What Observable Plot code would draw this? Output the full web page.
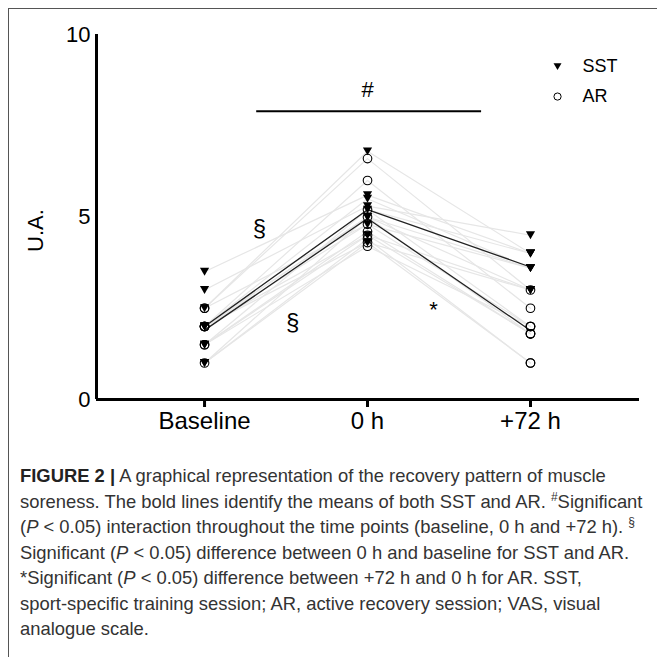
<!DOCTYPE html>
<html>
<head>
<meta charset="utf-8">
<script src="https://cdn.jsdelivr.net/npm/d3@7"></script>
<script src="https://cdn.jsdelivr.net/npm/@observablehq/plot@0.6"></script>
<style>
  html, body { margin: 0; padding: 0; background: white; }
  #page { position: relative; width: 657px; height: 657px; overflow: hidden; background: white; }
  #frame { position: absolute; left: 8px; top: 8px; width: 700px; height: 700px; z-index: 5;
           border-left: 1.5px solid #555; border-top: 1.5px solid #555; background: transparent; }
  #chart { position: absolute; left: 0; top: 0; }
  #caption { position: absolute; left: 20px; top: 463px; width: 640px;
             font-family: "Liberation Sans", Arial, sans-serif; font-size: 18.4px;
             line-height: 25.5px; color: #333; white-space: nowrap; }
  #caption b { color: #222; }
  #caption sup { font-size: 12px; line-height: 0; vertical-align: 7px; }
</style>
</head>
<body>
<div id="page">
  <div id="chart"></div>
  <div id="caption">
    <div><b>FIGURE 2 |</b> A graphical representation of the recovery pattern of muscle</div>
    <div>soreness. The bold lines identify the means of both SST and AR. <sup>#</sup>Significant</div>
    <div>(<i>P</i> &lt; 0.05) interaction throughout the time points (baseline, 0 h and +72 h). <sup>§</sup></div>
    <div>Significant (<i>P</i> &lt; 0.05) difference between 0 h and baseline for SST and AR.</div>
    <div>*Significant (<i>P</i> &lt; 0.05) difference between +72 h and 0 h for AR. SST,</div>
    <div>sport-specific training session; AR, active recovery session; VAS, visual</div>
    <div>analogue scale.</div>
  </div>
  <div id="frame"></div>
</div>
<script>
// Time points (categories)
const times = ["Baseline", "0 h", "+72 h"];
const yTicks = [0, 5, 10];

// SST individual values (one entry per subject)
const sstBaseline = [3.5, 3.0, 2.5, 2.0, 2.0, 2.0, 1.5, 1.5, 1.0, 1.0];
const sst0h       = [5.6, 5.3, 6.8, 5.5, 5.0, 4.8, 5.2, 4.5, 4.3, 5.0];
const sst72h      = [4.0, 4.5, 4.0, 3.6, 3.0, 3.6, 4.0, 3.0, 3.0, 3.6];

// AR individual values (one entry per subject)
const arBaseline = [2.5, 2.5, 2.0, 2.0, 2.0, 2.0, 1.5, 1.5, 1.0, 2.0];
const ar0h       = [6.6, 4.8, 6.0, 4.5, 5.2, 4.3, 4.6, 4.2, 4.4, 5.0];
const ar72h      = [3.0, 2.0, 2.5, 1.8, 2.0, 1.0, 1.8, 2.0, 1.0, 1.8];

// Legend and annotation labels
const groups = ["SST", "AR"];
const annotations = ["#", "§", "§", "*"];
const yLabel = "U.A.";

// Build long-format tables
function toRows(group, cols) {
  const rows = [];
  cols[0].forEach((_, i) => {
    cols.forEach((col, t) => rows.push({group, subject: i, t, value: col[i]}));
  });
  return rows;
}
const sstRows = toRows("SST", [sstBaseline, sst0h, sst72h]);
const arRows  = toRows("AR",  [arBaseline, ar0h, ar72h]);
const allRows = sstRows.concat(arRows);
const means = [];
[["SST", [sstBaseline, sst0h, sst72h]], ["AR", [arBaseline, ar0h, ar72h]]].forEach(([g, cols]) => {
  cols.forEach((col, t) => means.push({group: g, t, value: d3.mean(col)}));
});

// Downward-pointing triangle symbol
const triangleDown = {
  draw(context, size) {
    const r = Math.sqrt(size / Math.PI);
    context.moveTo(0, r * 0.85);
    context.lineTo(-r, -r * 0.85);
    context.lineTo(r, -r * 0.85);
    context.closePath();
  }
};

const xMin = -0.663, xMax = 2.669;
const font = "'Liberation Sans', Arial, sans-serif";

const chart = Plot.plot({
  width: 657,
  height: 440,
  marginLeft: 96,
  marginRight: 18,
  marginTop: 34,
  marginBottom: 41,
  x: {domain: [xMin, xMax]},
  y: {domain: [0, 10]},
  style: {fontFamily: font, fontSize: "22px", color: "#000", background: "white", overflow: "visible"},
  marks: [
    // individual subject trajectories
    Plot.line(allRows, {x: "t", y: "value", z: d => d.group + d.subject, stroke: "#e6e6e6", strokeWidth: 1.2}),
    // group means
    Plot.line(means, {x: "t", y: "value", z: "group", stroke: "#222", strokeWidth: 1.3}),
    // points
    Plot.dot(sstRows, {x: "t", y: "value", symbol: triangleDown, r: 4.6, fill: "black", stroke: "none"}),
    Plot.dot(arRows, {x: "t", y: "value", symbol: "circle", r: 4.3, fill: "none", stroke: "black", strokeWidth: 1.1}),
    // axes
    Plot.axisX({ticks: [0, 1, 2], tickFormat: i => times[i], tickSize: 8, tickPadding: 4,
                strokeWidth: 3, fontSize: 24, label: null}),
    Plot.axisY({ticks: yTicks, tickSize: 0, tickPadding: 6, fontSize: 22, label: null}),
    Plot.ruleX([xMin], {strokeWidth: 3}),
    Plot.ruleY([0], {strokeWidth: 3}),
    // y label
    Plot.text([yLabel], {x: -1.037, y: 4.63, text: d => d, rotate: -90, fontSize: 22}),
    // significance bar and symbols
    Plot.ruleY([7.9], {x1: 0.32, x2: 1.70, strokeWidth: 2}),
    Plot.text([annotations[0]], {x: 1, y: 8.47, fontSize: 22}),
    Plot.text([annotations[1]], {x: 0.337, y: 4.68, fontSize: 24}),
    Plot.text([annotations[2]], {x: 0.54, y: 2.11, fontSize: 24}),
    Plot.text([annotations[3]], {x: 1.405, y: 2.44, fontSize: 22}),
    // legend
    Plot.dot([groups[0]], {x: 2.166, y: 9.12, symbol: triangleDown, r: 4, fill: "black", stroke: "none"}),
    Plot.dot([groups[1]], {x: 2.166, y: 8.30, symbol: "circle", r: 3.6, fill: "none", stroke: "black", strokeWidth: 1}),
    Plot.text([groups[0]], {x: 2.319, y: 9.12, text: d => d, textAnchor: "start", fontSize: 18}),
    Plot.text([groups[1]], {x: 2.319, y: 8.30, text: d => d, textAnchor: "start", fontSize: 18})
  ]
});
document.getElementById("chart").appendChild(chart);
</script>
</body>
</html>
